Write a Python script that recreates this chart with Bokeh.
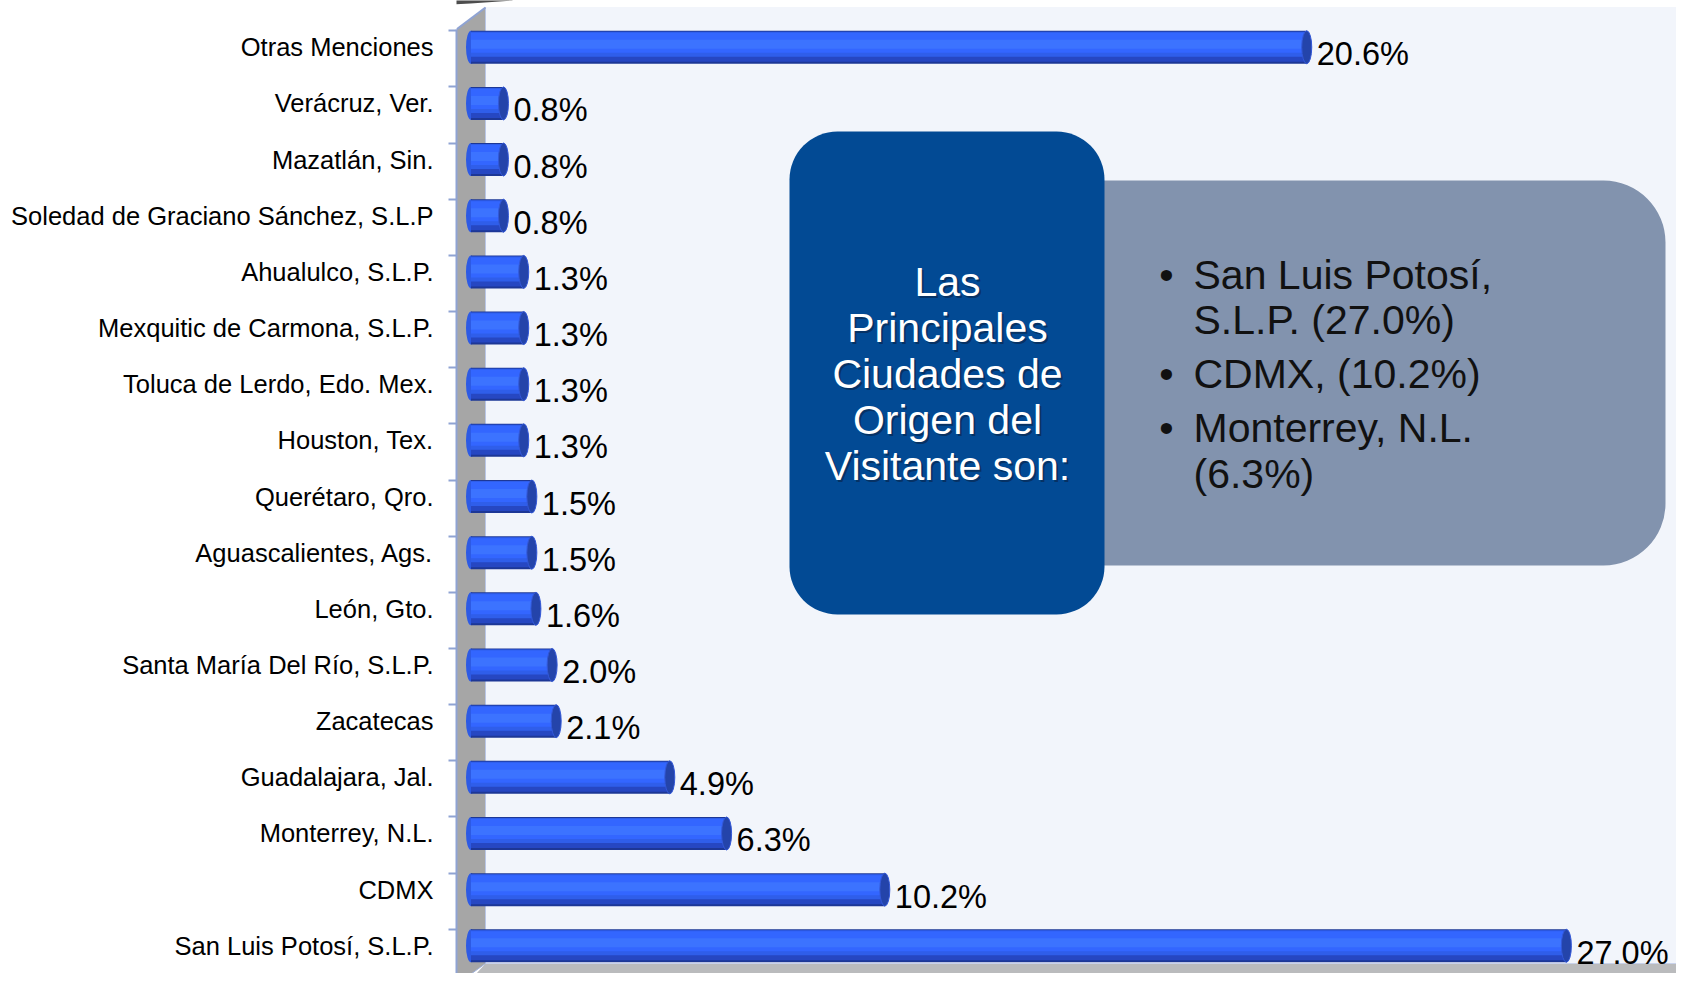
from bokeh.plotting import figure
from bokeh.models import Range1d, FixedTicker, ColumnDataSource, PolyAnnotation
from bokeh.core.properties import value
from bokeh.embed import file_html
from bokeh.resources import INLINE

# ---------------- data ----------------
categories = [
    "Otras Menciones", "Verácruz, Ver.", "Mazatlán, Sin.",
    "Soledad de Graciano Sánchez, S.L.P", "Ahualulco, S.L.P.",
    "Mexquitic de Carmona, S.L.P.", "Toluca de Lerdo, Edo. Mex.",
    "Houston, Tex.", "Querétaro, Qro.", "Aguascalientes, Ags.",
    "León, Gto.", "Santa María Del Río, S.L.P.", "Zacatecas",
    "Guadalajara, Jal.", "Monterrey, N.L.", "CDMX", "San Luis Potosí, S.L.P.",
]
values = [20.6, 0.8, 0.8, 0.8, 1.3, 1.3, 1.3, 1.3, 1.5, 1.5, 1.6, 2.0, 2.1,
          4.9, 6.3, 10.2, 27.0]
value_labels = [f"{v:.1f}%" for v in values]

box_title_lines = ["Las", "Principales", "Ciudades de", "Origen del", "Visitante son:"]
box_bullets = ["•", "", "•", "•", ""]
box_items = ["San Luis Potosí,", "S.L.P. (27.0%)", "CDMX, (10.2%)",
             "Monterrey, N.L.", "(6.3%)"]

# ---------------- geometry (picture pixels -> data) ----------------
W, H = 1676, 973
X0, SX = 470.5, 40.57     # picture x of value 0, px per %
Y0, SY = 945.3, 56.16     # picture y of bottom category, px per category
FRAME_LEFT = 456


def dx(px):
    return (px - X0) / SX


def dy(py):
    return (Y0 - py) / SY


n = len(categories)
ys = [n - 1 - i for i in range(n)]

p = figure(width=W, height=H, output_backend="svg", toolbar_location=None,
           x_range=Range1d(dx(FRAME_LEFT), dx(W)), y_range=Range1d(dy(H), dy(0)),
           x_axis_location=None, min_border_left=FRAME_LEFT, min_border_right=0,
           min_border_top=0, min_border_bottom=0)
p.outline_line_color = None
p.grid.visible = False
p.background_fill_color = "white"
p.border_fill_color = "white"

# slide decoration at the top-left (canvas pixels)
deco_x = [-10, 100, 200, 300, 400, 470, 512, 512, -10]
deco_y = [12, 13.5, 13, 10.5, 6.5, 3, 0, -5, -5]
p.add_layout(PolyAnnotation(xs=deco_x, ys=deco_y,
                            xs_units="canvas", ys_units="canvas",
                            fill_color="#4D4D4D", fill_alpha=1, line_color=None,
                            level="overlay"))

# back wall, side wall, floor
p.quad(left=dx(485), right=dx(1700), bottom=dy(963), top=dy(6.5),
       fill_color="#F2F5FB", line_color=None)
p.patch([dx(456), dx(485), dx(485), dx(456)], [dy(29), dy(7), dy(963), dy(984)],
        fill_color="#A6A6A6", line_color=None)
p.patch([dx(485), dx(1700), dx(1700), dx(456)], [dy(963), dy(963), dy(995), dy(995)],
        fill_color="#BABBBD", line_color=None)
p.segment(x0=[dx(485)], x1=[dx(485)], y0=[dy(7)], y1=[dy(963)],
          line_color="#B9C6E6", line_width=1)
p.segment(x0=[dx(485)], x1=[dx(1700)], y0=[dy(963)], y1=[dy(963)],
          line_color="#C9D2EA", line_width=1)
p.segment(x0=[dx(456)], x1=[dx(485)], y0=[dy(29)], y1=[dy(7)],
          line_color="#8FA3D3", line_width=2)
p.segment(x0=[dx(456)], x1=[dx(485)], y0=[dy(984)], y1=[dy(963)],
          line_color="#9FB0DA", line_width=1)

# info boxes
p.quad(left=dx(1080), right=dx(1665), top=dy(180), bottom=dy(565),
       fill_color="#8293AE", line_color=None, border_radius=(0, 62, 62, 0))
p.quad(left=dx(789), right=dx(1104), top=dy(131), bottom=dy(614),
       fill_color="#024A94", line_color=None, border_radius=48)

title_y = [dy(281 + 46 * i) for i in range(len(box_title_lines))]
tsrc = ColumnDataSource(dict(x=[dx(947)] * len(box_title_lines), y=title_y,
                             t=box_title_lines))
p.text("x", "y", text="t", source=tsrc, text_align="center", text_baseline="middle",
       text_font=value("Liberation Sans"), text_font_size="41px",
       text_color="#0A1E3C", text_alpha=0.55, x_offset=2, y_offset=2)
p.text("x", "y", text="t", source=tsrc, text_align="center", text_baseline="middle",
       text_font=value("Liberation Sans"), text_font_size="41px", text_color="white")

item_y = [dy(v) for v in (274, 319, 373, 427.5, 473)]
p.text(x=[dx(1166)] * len(box_bullets), y=item_y, text=box_bullets,
       text_align="center", text_baseline="middle",
       text_font=value("Liberation Sans"), text_font_size="41px", text_color="#111111")
p.text(x=[dx(1193)] * len(box_items), y=item_y, text=box_items,
       text_align="left", text_baseline="middle",
       text_font=value("Liberation Sans"), text_font_size="41px", text_color="#111111")

# bars (cylinders)
BH = 33.0  # bar thickness in px


def band(a, b):
    """offset and height (data units) of a horizontal band from a to b px below bar top"""
    off = -(-BH / 2 + (a + b) / 2) / SY
    return off, (b - a) / SY


src = ColumnDataSource(dict(y=ys, v=values, lab=value_labels, zero=[0] * n))
p.ellipse(x="zero", y="y", width=10, width_units="screen", height=BH,
          height_units="screen", source=src, fill_color="#2D5AE4", line_color=None)
for (a, b, col) in [(0, 33, "#1D3796"), (1, 31, "#2647C2"), (1, 26, "#2F5EEA"),
                    (2, 22, "#3366FF"), (9, 18, "#3C73FF")]:
    off, hh = band(a, b)
    p.hbar(y=[y + off for y in ys], left=0, right=values, height=hh,
           fill_color=col, line_color=None)
p.ellipse(x="v", y="y", width=10, width_units="screen", height=BH,
          height_units="screen", source=src, fill_color="#2444AA",
          line_color="#3358D8", line_width=1)

# value labels
p.text(x="v", y="y", text="lab", source=src, x_offset=10, y_offset=7,
       text_align="left", text_baseline="middle",
       text_font=value("Liberation Sans"), text_font_size="32.5px", text_color="black")

# category axis
ax = p.yaxis[0]
ax.ticker = FixedTicker(ticks=ys, minor_ticks=[y + (BH / 2) / SY for y in ys])
ax.major_label_overrides = {y: c for y, c in zip(ys, categories)}
ax.major_tick_out = 0
ax.major_tick_in = 0
ax.minor_tick_out = 8
ax.minor_tick_in = 0
ax.minor_tick_line_color = "#8FA3D3"
ax.minor_tick_line_width = 2
ax.axis_line_color = "#8FA3D3"
ax.axis_line_width = 2
ax.bounds = (dy(H), dy(29))
ax.major_label_standoff = 15
ax.major_label_text_font = "Liberation Sans"
ax.major_label_text_font_size = "25.5px"
ax.major_label_text_color = "black"

open("out.html", "w").write(file_html(p, INLINE))
